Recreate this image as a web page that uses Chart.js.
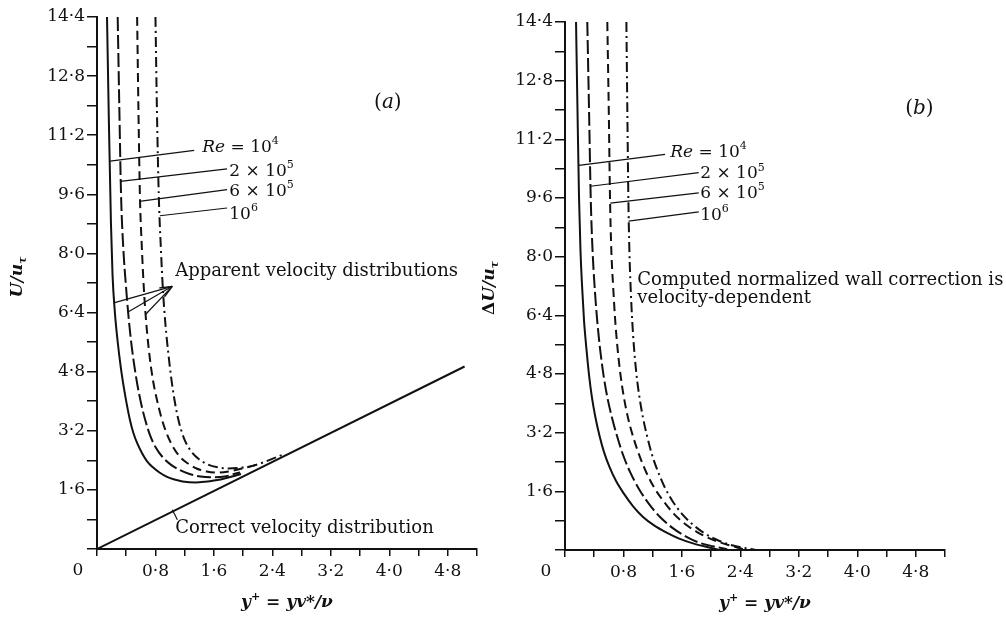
<!DOCTYPE html>
<html>
<head>
<meta charset="utf-8">
<title>Apparent velocity distributions and wall correction</title>
<script src="https://cdn.jsdelivr.net/npm/chart.js@4.4.1/dist/chart.umd.min.js"></script>
<style>
  html, body { margin: 0; padding: 0; background: #fff; }
  body { width: 1006px; height: 621px; position: relative; overflow: hidden; }
  .panel { position: absolute; top: 0; height: 621px; }
  #panelA { left: 0; width: 503px; }
  #panelB { left: 470px; width: 536px; }
</style>
</head>
<body>
<div class="panel" id="panelA"><canvas id="chartA"></canvas></div>
<div class="panel" id="panelB"><canvas id="chartB"></canvas></div>
<script>
  // --- Eixos ------------------------------------------------------------------
  var X_TICKS = [0, 0.4, 0.8, 1.2, 1.6, 2.0, 2.4, 2.8, 3.2, 3.6, 4.0, 4.4, 4.8, 5.2];
  var X_LABELLED = [0.8, 1.6, 2.4, 3.2, 4.0, 4.8];
  var Y_TICKS = [0, 0.8, 1.6, 2.4, 3.2, 4.0, 4.8, 5.6, 6.4, 7.2, 8.0, 8.8, 9.6, 10.4, 11.2, 12.0, 12.8, 13.6, 14.4];
  var Y_LABELLED = [1.6, 3.2, 4.8, 6.4, 8.0, 9.6, 11.2, 12.8, 14.4];

  // --- Séries: (a) U/u_tau aparente, uma por Re -------------------------------
  var A_X_RE1 = [0.137, 0.162, 0.191, 0.213, 0.244, 0.283, 0.326, 0.368, 0.409, 0.45, 0.498, 0.553, 0.615, 0.683, 0.765, 0.855, 0.951, 1.06, 1.17, 1.35, 1.48, 1.69, 1.90, 1.97];
  var A_U_RE1 = [14.4, 11.63, 8.81, 7.40, 6.42, 5.61, 4.91, 4.36, 3.90, 3.50, 3.14, 2.85, 2.60, 2.38, 2.21, 2.07, 1.96, 1.88, 1.83, 1.80, 1.82, 1.88, 1.99, 2.03];
  var A_X_RE2 = [0.283, 0.306, 0.329, 0.361, 0.395, 0.429, 0.464, 0.505, 0.553, 0.608, 0.663, 0.724, 0.80, 0.896, 1.005, 1.129, 1.266, 1.417, 1.582, 1.746, 1.91, 1.959];
  var A_U_RE2 = [14.4, 11.90, 9.59, 8.10, 7.15, 6.34, 5.66, 5.04, 4.44, 3.90, 3.47, 3.09, 2.76, 2.49, 2.29, 2.14, 2.03, 1.96, 1.94, 1.96, 2.05, 2.07];
  var A_X_RE3 = [0.549, 0.567, 0.587, 0.615, 0.642, 0.676, 0.717, 0.765, 0.82, 0.882, 0.951, 1.033, 1.129, 1.239, 1.362, 1.499, 1.65, 1.801, 1.966, 2.131, 2.199];
  var A_U_RE3 = [14.4, 11.90, 9.59, 8.10, 7.02, 6.07, 5.26, 4.58, 4.04, 3.55, 3.14, 2.79, 2.51, 2.32, 2.18, 2.10, 2.07, 2.10, 2.17, 2.25, 2.29];
  var A_X_RE4 = [0.80, 0.82, 0.845, 0.875, 0.902, 0.937, 0.978, 1.019, 1.06, 1.102, 1.15, 1.211, 1.294, 1.396, 1.513, 1.65, 1.801, 1.966, 2.13, 2.309, 2.538];
  var A_U_RE4 = [14.4, 11.90, 9.59, 8.10, 7.02, 6.07, 5.26, 4.58, 4.04, 3.60, 3.23, 2.90, 2.63, 2.43, 2.29, 2.21, 2.18, 2.20, 2.25, 2.37, 2.55];
  // distribuição correta (linha reta)
  var CORRECT_X = [0, 5.03];
  var CORRECT_U = [0, 4.94];

  // --- Séries: (b) correção normalizada ΔU/u_tau ------------------------------
  var B_X_RE1 = [0.151, 0.171, 0.192, 0.212, 0.233, 0.26, 0.295, 0.329, 0.37, 0.418, 0.473, 0.534, 0.61, 0.699, 0.808, 0.932, 1.068, 1.219, 1.384, 1.562, 1.753, 1.945, 2.096];
  var B_D_RE1 = [14.4, 11.99, 9.60, 8.17, 7.22, 6.27, 5.45, 4.77, 4.14, 3.60, 3.11, 2.67, 2.26, 1.88, 1.53, 1.19, 0.90, 0.67, 0.48, 0.31, 0.18, 0.08, 0.01];
  var B_X_RE2 = [0.305, 0.329, 0.352, 0.377, 0.404, 0.438, 0.479, 0.527, 0.582, 0.644, 0.712, 0.795, 0.89, 1.014, 1.151, 1.301, 1.466, 1.644, 1.836, 2.027, 2.219];
  var B_D_RE2 = [14.4, 11.99, 9.60, 8.17, 7.22, 6.32, 5.50, 4.77, 4.14, 3.60, 3.11, 2.59, 2.13, 1.66, 1.25, 0.90, 0.61, 0.38, 0.20, 0.10, 0.02];
  var B_X_RE3 = [0.579, 0.599, 0.616, 0.634, 0.658, 0.685, 0.719, 0.76, 0.808, 0.87, 0.938, 1.021, 1.116, 1.233, 1.356, 1.493, 1.644, 1.808, 1.986, 2.164, 2.356, 2.45];
  var B_D_RE3 = [14.4, 11.99, 9.60, 8.17, 7.22, 6.32, 5.50, 4.77, 4.14, 3.54, 3.05, 2.56, 2.10, 1.66, 1.31, 0.98, 0.71, 0.49, 0.31, 0.18, 0.07, 0.02];
  var B_X_RE4 = [0.84, 0.853, 0.867, 0.881, 0.897, 0.918, 0.945, 0.979, 1.021, 1.068, 1.123, 1.192, 1.274, 1.37, 1.479, 1.603, 1.74, 1.89, 2.055, 2.233, 2.425, 2.6];
  var B_D_RE4 = [14.4, 11.99, 9.60, 8.17, 7.22, 6.32, 5.50, 4.77, 4.14, 3.60, 3.11, 2.59, 2.13, 1.69, 1.31, 0.98, 0.71, 0.48, 0.30, 0.16, 0.07, 0.01];

  // rótulos de Re (com expoentes)
  var RE_LABELS = [
    [{ t: "Re", i: 1 }, { t: " = 10" }, { t: "4", sup: 1 }],
    [{ t: "2 × 10" }, { t: "5", sup: 1 }],
    [{ t: "6 × 10" }, { t: "5", sup: 1 }],
    [{ t: "10" }, { t: "6", sup: 1 }],
  ];
  var DASHES = [[], [14, 4], [9, 5], [10, 4, 2, 4]];

  var FONT = '"DejaVu Serif", "Liberation Serif", serif';
  var INK = "#111";

  // --- Helpers ----------------------------------------------------------------
  function pts(xs, ys) { return xs.map(function (x, k) { return { x: x, y: ys[k] }; }); }
  function near(list, v) { return list.some(function (w) { return Math.abs(w - v) < 1e-6; }); }
  function fmt(v) { return v.toFixed(1).replace(".", "·"); }

  function line(data, dash, width) {
    return {
      data: data, showLine: true, borderColor: INK, borderWidth: width || 2,
      borderDash: dash || [], cubicInterpolationMode: "monotone", pointRadius: 0, fill: false,
    };
  }

  // drawRich escreve texto misto (itálico, negrito, sobrescrito, subscrito).
  function drawRich(ctx, parts, x, y, size, align) {
    var segs = parts.map(function (p) {
      var sz = (p.sup || p.sub) ? Math.round(size * 0.66) : size;
      var font = (p.i ? "italic " : "") + (p.b ? "bold " : "") + sz + "px " + FONT;
      ctx.font = font;
      return { t: p.t, font: font, w: ctx.measureText(p.t).width, dy: p.sup ? -size * 0.36 : (p.sub ? size * 0.3 : 0) };
    });
    var total = segs.reduce(function (s, g) { return s + g.w; }, 0);
    var cx = align === "center" ? x - total / 2 : x;
    ctx.textAlign = "left";
    ctx.textBaseline = "middle";
    ctx.fillStyle = INK;
    segs.forEach(function (g) { ctx.font = g.font; ctx.fillText(g.t, cx, y + g.dy); cx += g.w; });
  }

  function seg(ctx, a, b, w) {
    ctx.beginPath(); ctx.lineWidth = w || 1; ctx.strokeStyle = INK;
    ctx.moveTo(a[0], a[1]); ctx.lineTo(b[0], b[1]); ctx.stroke();
  }

  var X_TITLE = [{ t: "y", i: 1, b: 1 }, { t: "+", sup: 1, b: 1 }, { t: " = ", b: 1 }, { t: "yv*/ν", i: 1, b: 1 }];
  var Y_TITLE_A = [{ t: "U/u", i: 1, b: 1 }, { t: "τ", sub: 1, b: 1, i: 1 }];
  var Y_TITLE_B = [{ t: "Δ", b: 1 }, { t: "U/u", i: 1, b: 1 }, { t: "τ", sub: 1, b: 1, i: 1 }];

  // notesPlugin desenha rótulos, linhas de chamada e títulos dos eixos.
  function notesPlugin(cfg) {
    return {
      id: "notes",
      afterDraw: function (chart) {
        var ctx = chart.ctx, xs = chart.scales.x, ys = chart.scales.y, ca = chart.chartArea;
        function P(p) { return [xs.getPixelForValue(p[0]), ys.getPixelForValue(p[1])]; }
        ctx.save();
        // "0" na origem, deslocado à esquerda
        ctx.font = "17px " + FONT; ctx.fillStyle = INK; ctx.textAlign = "center"; ctx.textBaseline = "middle";
        ctx.fillText("0", ca.left - 19, ca.bottom + 22);
        // títulos
        drawRich(ctx, X_TITLE, (ca.left + ca.right) / 2 + cfg.xTitleShift, ca.bottom + 54, 17, "center");
        ctx.save();
        ctx.translate(ca.left + cfg.yTitleDx, cfg.yTitleY);
        ctx.rotate(-Math.PI / 2);
        drawRich(ctx, cfg.yTitle, 0, 0, 17, "center");
        ctx.restore();
        // letra do painel
        var tg = P(cfg.tagAt);
        drawRich(ctx, [{ t: "(" }, { t: cfg.tag, i: 1 }, { t: ")" }], tg[0], tg[1], 20, "center");
        // chamadas de Re
        for (var k = 0; k < 4; k++) {
          seg(ctx, P(cfg.leadFrom[k]), P(cfg.leadTo[k]), 1.2);
          var lp = P(cfg.labelAt[k]);
          drawRich(ctx, RE_LABELS[k], lp[0], lp[1], 17, "left");
        }
        if (cfg.extra) cfg.extra(ctx, P);
        ctx.restore();
      },
    };
  }

  function makeChart(id, datasets, cfg) {
    var tickFont = { family: FONT, size: 17 };
    return new Chart(document.getElementById(id), {
      type: "scatter",
      data: { datasets: datasets },
      options: {
        responsive: true, maintainAspectRatio: false, animation: false, devicePixelRatio: 1,
        layout: { padding: cfg.padding },
        plugins: { legend: { display: false }, tooltip: { enabled: false } },
        scales: {
          x: {
            type: "linear", min: 0, max: 5.2,
            afterBuildTicks: function (s) { s.ticks = X_TICKS.map(function (v) { return { value: v }; }); },
            afterFit: function (s) { s.height = cfg.xAxisHeight; },
            grid: { drawOnChartArea: false, drawTicks: true, tickLength: 7, color: INK, lineWidth: 1.5 },
            border: { display: true, color: INK, width: 2 },
            ticks: {
              autoSkip: false, maxRotation: 0, padding: 5, color: INK, font: tickFont,
              callback: function (v) { return near(X_LABELLED, v) ? fmt(v) : ""; },
            },
          },
          y: {
            type: "linear", min: 0, max: 14.4,
            afterBuildTicks: function (s) { s.ticks = Y_TICKS.map(function (v) { return { value: v }; }); },
            afterFit: function (s) { s.width = cfg.yAxisWidth; },
            grid: { drawOnChartArea: false, drawTicks: true, tickLength: 10, color: INK, lineWidth: 1.5 },
            border: { display: true, color: INK, width: 2 },
            ticks: {
              autoSkip: false, padding: 2, color: INK, font: tickFont,
              callback: function (v) { return near(Y_LABELLED, v) ? fmt(v) : ""; },
            },
          },
        },
      },
      plugins: [notesPlugin(cfg)],
    });
  }

  // --- Painel (a) ------------------------------------------------------------
  makeChart("chartA", [
    line(pts(CORRECT_X, CORRECT_U), [], 2),
    line(pts(A_X_RE1, A_U_RE1), DASHES[0]),
    line(pts(A_X_RE2, A_U_RE2), DASHES[1]),
    line(pts(A_X_RE3, A_U_RE3), DASHES[2]),
    line(pts(A_X_RE4, A_U_RE4), DASHES[3]),
  ], {
    padding: { left: 0, right: 26, top: 17, bottom: 0 },
    yAxisWidth: 97, xAxisHeight: 72,
    xTitleShift: 0, yTitleDx: -79, yTitleY: 277, yTitle: Y_TITLE_A,
    tag: "a", tagAt: [3.98, 12.09],
    leadFrom: [[0.18, 10.5], [0.32, 9.95], [0.58, 9.41], [0.86, 9.02]],
    leadTo: [[1.33, 10.79], [1.78, 10.29], [1.78, 9.73], [1.78, 9.23]],
    labelAt: [[1.44, 10.87], [1.81, 10.22], [1.81, 9.68], [1.81, 9.05]],
    extra: function (ctx, P) {
      // setas das distribuições aparentes
      var tip = P([1.03, 7.11]);
      [[0.23, 6.66], [0.43, 6.42], [0.66, 6.34]].forEach(function (s) { seg(ctx, P(s), tip, 1.2); });
      var from = P([0.43, 6.42]);
      var ang = Math.atan2(tip[1] - from[1], tip[0] - from[0]);
      [0.4, -0.4].forEach(function (d) {
        seg(ctx, tip, [tip[0] - 13 * Math.cos(ang + d), tip[1] - 13 * Math.sin(ang + d)], 1.4);
      });
      var ap = P([1.07, 7.51]);
      drawRich(ctx, [{ t: "Apparent velocity distributions" }], ap[0], ap[1], 18, "left");
      seg(ctx, P([1.03, 1.06]), P([1.10, 0.79]), 1.2);
      var cp = P([1.07, 0.56]);
      drawRich(ctx, [{ t: "Correct velocity distribution" }], cp[0], cp[1], 18, "left");
    },
  });

  // --- Painel (b) ------------------------------------------------------------
  makeChart("chartB", [
    line(pts(B_X_RE1, B_D_RE1), DASHES[0]),
    line(pts(B_X_RE2, B_D_RE2), DASHES[1]),
    line(pts(B_X_RE3, B_D_RE3), DASHES[2]),
    line(pts(B_X_RE4, B_D_RE4), DASHES[3]),
  ], {
    padding: { left: 0, right: 61, top: 22, bottom: 0 },
    yAxisWidth: 95, xAxisHeight: 71,
    xTitleShift: 10, yTitleDx: -75, yTitleY: 288, yTitle: Y_TITLE_B,
    tag: "b", tagAt: [4.85, 12.04],
    leadFrom: [[0.19, 10.49], [0.35, 9.92], [0.62, 9.46], [0.87, 8.97]],
    leadTo: [[1.37, 10.79], [1.83, 10.29], [1.83, 9.74], [1.83, 9.22]],
    labelAt: [[1.44, 10.85], [1.85, 10.26], [1.85, 9.72], [1.85, 9.13]],
    extra: function (ctx, P) {
      var a = P([0.99, 7.36]), b = P([0.99, 6.87]);
      drawRich(ctx, [{ t: "Computed normalized wall correction is" }], a[0], a[1], 18, "left");
      drawRich(ctx, [{ t: "velocity-dependent" }], b[0], b[1], 18, "left");
    },
  });
</script>
</body>
</html>
